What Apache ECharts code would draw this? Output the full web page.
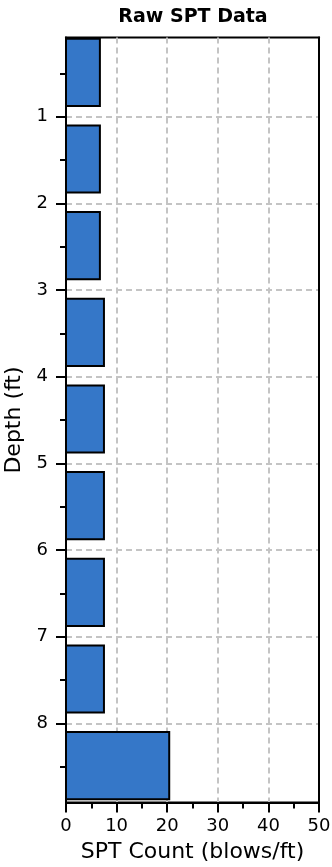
<!DOCTYPE html>
<html>
<head>
<meta charset="utf-8">
<script src="https://cdn.jsdelivr.net/npm/echarts@6/dist/echarts.min.js"></script>
<style>
  html, body { margin: 0; padding: 0; background: #fff; }
  #chart { width: 332px; height: 867px; }
</style>
</head>
<body>
<div id="chart"></div>
<script>
// SPT samples: top / bottom depth of each sampled interval (ft) and blow count (blows/ft)
const depthTop    = [0.1, 1.1, 2.1, 3.1, 4.1, 5.1, 6.1, 7.1, 8.1];
const depthBottom = [0.875, 1.875, 2.875, 3.875, 4.875, 5.875, 6.875, 7.875, 8.875];
const sptCount    = [6.7, 6.7, 6.7, 7.5, 7.5, 7.5, 7.5, 7.5, 20.4];

// Axis ticks
const depthMajorTicks = [1, 2, 3, 4, 5, 6, 7, 8];
const depthMinorTicks = [0.5, 1.5, 2.5, 3.5, 4.5, 5.5, 6.5, 7.5, 8.5];

const FONT = 'DejaVu Sans';
const DEPTH_MIN = 0.086;
const DEPTH_MAX = 8.912;

const samples = sptCount.map((v, i) => [v, depthTop[i], depthBottom[i]]);

const chart = echarts.init(document.getElementById('chart'), null, { renderer: 'canvas' });

chart.setOption({
  animation: false,
  backgroundColor: '#ffffff',
  title: {
    text: 'Raw SPT Data',
    left: 188,
    top: 3,
    textAlign: 'center',
    textStyle: { fontFamily: FONT, fontWeight: 'bold', fontSize: 19, color: '#000' }
  },
  grid: {
    left: 66, right: 13, top: 37.5, bottom: 64.5,
    outerBoundsMode: 'none',
    show: true, borderColor: '#000', borderWidth: 2, backgroundColor: 'transparent',
    containLabel: false
  },
  xAxis: {
    type: 'value',
    min: 0, max: 50, interval: 10,
    position: 'bottom',
    name: 'SPT Count (blows/ft)',
    nameLocation: 'middle',
    nameGap: 39,
    nameMoveOverlap: false,
    nameTextStyle: { fontFamily: FONT, fontSize: 22, color: '#000' },
    axisLine: { show: true, lineStyle: { color: '#000', width: 2 } },
    axisTick: { show: true, inside: false, length: 10, lineStyle: { color: '#000', width: 2 } },
    minorTick: { show: true, splitNumber: 2, length: 6, lineStyle: { color: '#000', width: 2 } },
    axisLabel: { fontFamily: FONT, fontSize: 18, color: '#000', margin: 15 },
    splitLine: { show: true, lineStyle: { color: '#c4c4c4', width: 2, type: [6, 4] } }
  },
  yAxis: [
    {
      type: 'value',
      inverse: true,
      min: DEPTH_MIN, max: DEPTH_MAX,
      position: 'left',
      name: 'Depth (ft)',
      nameLocation: 'middle',
      nameGap: 41,
      nameMoveOverlap: false,
      nameRotate: 90,
      nameTextStyle: { fontFamily: FONT, fontSize: 22, color: '#000' },
      axisLine: { show: true, lineStyle: { color: '#000', width: 2 } },
      axisTick: { show: true, inside: false, length: 10, customValues: depthMajorTicks,
                  lineStyle: { color: '#000', width: 2 } },
      axisLabel: { fontFamily: FONT, fontSize: 18, color: '#000', margin: 18,
                   customValues: depthMajorTicks },
      splitLine: { show: true, lineStyle: { color: '#c4c4c4', width: 2, type: [6, 4] } }
    },
    {
      // half-foot minor ticks
      type: 'value',
      inverse: true,
      min: DEPTH_MIN, max: DEPTH_MAX,
      position: 'left',
      axisLine: { show: false },
      axisTick: { show: true, inside: false, length: 6, customValues: depthMinorTicks,
                  lineStyle: { color: '#000', width: 2 } },
      axisLabel: { show: false },
      splitLine: { show: false }
    },
    {
      // solid right-hand frame edge
      type: 'value',
      inverse: true,
      min: DEPTH_MIN, max: DEPTH_MAX,
      position: 'right',
      z: 5,
      axisLine: { show: true, lineStyle: { color: '#000', width: 2 } },
      axisTick: { show: false },
      axisLabel: { show: false },
      splitLine: { show: false }
    }
  ],
  series: [{
    type: 'custom',
    xAxisIndex: 0,
    yAxisIndex: 0,
    encode: { x: 0, y: [1, 2] },
    data: samples,
    z: 3,
    renderItem: function (params, api) {
      const p0 = api.coord([0, api.value(1)]);
      const p1 = api.coord([api.value(0), api.value(2)]);
      return {
        type: 'rect',
        shape: { x: p0[0], y: p0[1], width: p1[0] - p0[0], height: p1[1] - p0[1] },
        style: { fill: '#3577c8', stroke: '#000', lineWidth: 2 }
      };
    }
  }]
});
</script>
</body>
</html>
